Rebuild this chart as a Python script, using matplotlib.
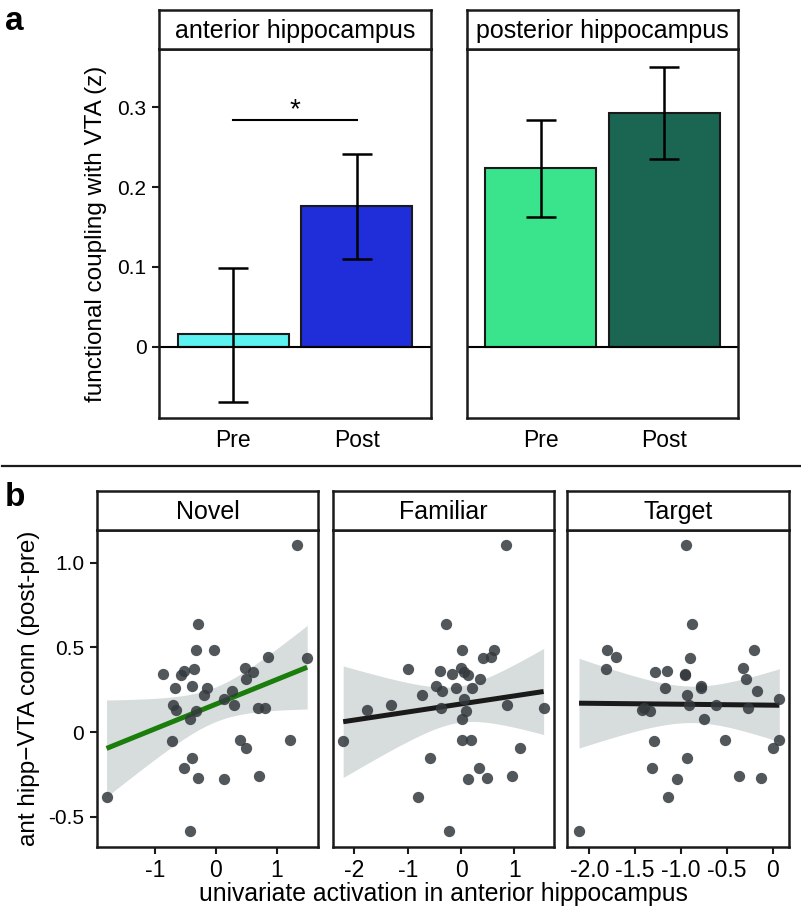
import numpy as np
import matplotlib
matplotlib.use('Agg')
import matplotlib.pyplot as plt

plt.rcParams['font.family'] = ['Liberation Sans', 'DejaVu Sans']
plt.rcParams['axes.unicode_minus'] = False

# panel a: bar means and error bar limits
conds = ['Pre', 'Post']
regions = ['anterior hippocampus', 'posterior hippocampus']
ant_mean = [0.0155, 0.176]
ant_lo = [-0.069, 0.110]
ant_hi = [0.099, 0.242]
post_mean = [0.2236, 0.293]
post_lo = [0.1625, 0.235]
post_hi = [0.284, 0.351]
bar_colors = [['#5cf2f2', '#1f2ed8'], ['#3ae48c', '#1b6652']]

# panel b: connectivity change (same subjects in every facet)
conn = [1.105, 0.638, 0.486, 0.486, 0.443, 0.439, 0.376, 0.374, 0.358, 0.356,
        0.343, 0.337, 0.315, 0.27, 0.26, 0.26, 0.24, 0.22, 0.197, 0.16,
        0.16, 0.143, 0.14, 0.13, 0.126, 0.075, -0.047, -0.049, -0.051, -0.093,
        -0.154, -0.21, -0.26, -0.27, -0.28, -0.384, -0.587]
novel_x = [1.33, -0.29, -0.33, -0.04, 0.85, 1.50, 0.47, -0.36, -0.53, 0.61,
           -0.87, -0.58, 0.50, -0.40, -0.67, -0.15, 0.26, -0.20, 0.14, 0.30,
           -0.71, 0.69, 0.81, -0.66, -0.33, -0.43, 1.21, 0.40, -0.73, 0.50,
           -0.40, -0.53, 0.71, -0.30, 0.14, -1.80, -0.43]
familiar_x = [0.84, -0.275, 0.01, 0.625, 0.56, 0.41, 0.0, -0.99, -0.40, 0.06,
              -0.175, 0.125, 0.35, -0.47, -0.10, 0.21, -0.36, -0.73, 0.05, -1.31,
              0.86, -0.38, 1.55, -1.76, 0.10, 0.01, 0.01, 0.18, -2.21, 1.11,
              -0.575, 0.33, 0.96, 0.48, 0.14, -0.81, -0.225]
target_x = [-0.945, -0.877, -1.807, -0.207, -1.705, -0.90, -0.327, -1.814, -1.153, -1.283,
            -0.953, -0.96, -0.288, -0.785, -1.171, -0.78, -0.175, -0.935, 0.072, -0.916,
            -0.622, -0.273, -1.40, -1.43, -1.338, -0.746, 0.065, -0.517, -1.291, 0.007,
            -0.931, -1.316, -0.371, -0.131, -1.044, -1.145, -2.112]
facets = ['Novel', 'Familiar', 'Target']
facet_x = [novel_x, familiar_x, target_x]
line_colors = ['#1a7d0c', '#1a1a1a', '#1a1a1a']
xlims = [(-1.962, 1.683), (-2.407, 1.739), (-2.24, 0.181)]
xticks = [[-1, 0, 1], [-2, -1, 0, 1], [-2.0, -1.5, -1.0, -0.5, 0]]
xticklabels = [['-1', '0', '1'], ['-2', '-1', '0', '1'],
               ['-2.0', '-1.5', '-1.0', '-0.5', '0']]

W, H = 801, 907
fig = plt.figure(figsize=(W / 100, H / 100), dpi=100)

def box(x0, y0, x1, y1):
    # pixel box (top-left origin) -> figure fraction
    return [x0 / W, 1 - y1 / H, (x1 - x0) / W, (y1 - y0) / H]

def strip(x0, y0, x1, y1, label):
    s = fig.add_axes(box(x0, y0, x1, y1))
    s.set_xticks([]); s.set_yticks([])
    for sp in s.spines.values():
        sp.set_linewidth(1.8); sp.set_color('#1a1a1a')
    s.text(0.5, 0.47, label, ha='center', va='center', fontsize=18,
           transform=s.transAxes)

def style(ax):
    for sp in ax.spines.values():
        sp.set_linewidth(1.8); sp.set_color('#1a1a1a')
    ax.tick_params(length=5, width=1.5, color='#1a1a1a', pad=4)

# ---------- panel a ----------
pa = [(159, 431), (466.7, 738.3)]
means = [ant_mean, post_mean]
los = [ant_lo, post_lo]
his = [ant_hi, post_hi]
for i, (x0, x1) in enumerate(pa):
    ax = fig.add_axes(box(x0, 49.3, x1, 418.3))
    strip(x0, 10, x1, 49.3, regions[i])
    pos = np.arange(1, 3)
    m = np.array(means[i])
    ax.bar(pos, m, width=0.9, color=bar_colors[i], edgecolor='#1a1a1a',
           linewidth=1.5, zorder=2)
    err = [m - np.array(los[i]), np.array(his[i]) - m]
    ax.errorbar(pos, m, yerr=err, fmt='none', ecolor='black', elinewidth=1.8,
                capsize=11, capthick=1.8, zorder=3)
    ax.axhline(0, color='black', lw=1.5, zorder=2.5)
    ax.set_xlim(0.4, 2.6)
    ax.set_ylim(-0.0897, 0.3727)
    ax.set_xticks(pos)
    ax.set_xticklabels(conds, fontsize=16.5)
    style(ax)
    ax.tick_params(axis='x', length=0, pad=8)
    if i == 0:
        ax.set_yticks([0, 0.1, 0.2, 0.3])
        ax.set_yticklabels(['0', '0.1', '0.2', '0.3'], fontsize=15)
        ax.set_ylabel('functional coupling with VTA (z)', fontsize=17.5)
        ax.yaxis.set_label_coords(-0.191, 0.5)
        ax.plot([1, 2], [0.284, 0.284], color='black', lw=1.5)
        ax.text(1.5, 0.296, '*', ha='center', va='center', fontsize=20)
    else:
        ax.set_yticks([])

fig.text(5 / W, 1 - 22 / H, 'a', fontsize=24, fontweight='bold', va='center')

# separator line
fig.add_artist(plt.Line2D([2 / W, 1], [1 - 465.5 / H, 1 - 465.5 / H],
                          color='#1a1a1a', lw=1.6))

# ---------- panel b ----------
pb = [(96.7, 318.3), (332.7, 553.7), (567.3, 789.3)]
y = np.array(conn)
for i, (x0, x1) in enumerate(pb):
    ax = fig.add_axes(box(x0, 530, x1, 846.7))
    strip(x0, 491, x1, 530, facets[i])
    x = np.array(facet_x[i])
    # linear fit with 95% confidence band
    n = len(x)
    b1, b0 = np.polyfit(x, y, 1)
    resid = y - (b0 + b1 * x)
    s2 = np.sum(resid ** 2) / (n - 2)
    xs = np.linspace(x.min(), x.max(), 80)
    se = np.sqrt(s2 * (1 / n + (xs - x.mean()) ** 2 / np.sum((x - x.mean()) ** 2)))
    fit = b0 + b1 * xs
    ax.fill_between(xs, fit - 2.03 * se, fit + 2.03 * se, color='#d7dddc',
                    lw=0, zorder=1)
    ax.plot(xs, fit, color=line_colors[i], lw=3.6, zorder=2,
            solid_capstyle='butt')
    ax.scatter(x, y, s=66, color='#33393d', alpha=0.85, lw=0, zorder=3)
    ax.set_xlim(*xlims[i])
    ax.set_ylim(-0.677, 1.193)
    ax.set_xticks(xticks[i])
    ax.set_xticklabels(xticklabels[i], fontsize=16.5)
    style(ax)
    if i == 0:
        ax.set_yticks([-0.5, 0, 0.5, 1.0])
        ax.set_yticklabels(['-0.5', '0', '0.5', '1.0'], fontsize=15)
        ax.set_ylabel('ant hipp\u2212VTA conn (post-pre)', fontsize=17.5)
        ax.yaxis.set_label_coords(-0.256, 0.5)
    else:
        ax.set_yticks([])

fig.text(443 / W, 1 - 901 / H, 'univariate activation in anterior hippocampus',
         ha='center', va='baseline', fontsize=17.8)
fig.text(5 / W, 1 - 497 / H, 'b', fontsize=24, fontweight='bold', va='center')

fig.savefig('out.png', dpi=100)
